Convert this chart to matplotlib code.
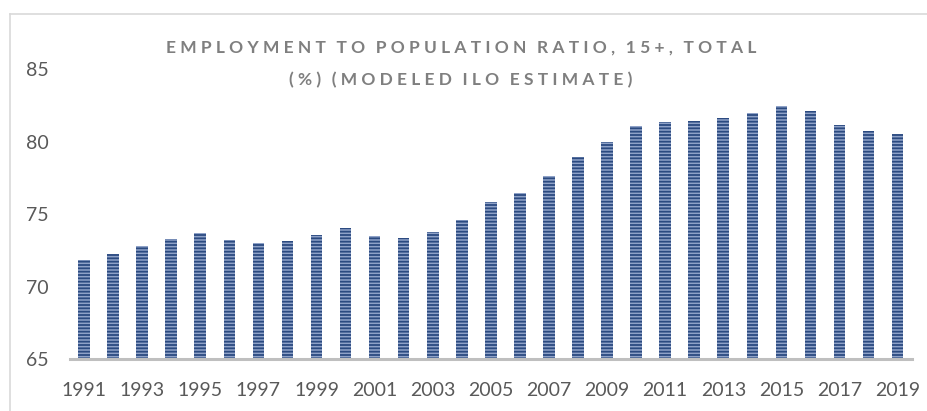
import matplotlib.pyplot as plt
import numpy as np
from matplotlib.lines import Line2D

# employment to population ratio, 15+, total (%)
years = list(range(1991, 2020))
ratio = [71.85, 72.24, 72.81, 73.28, 73.71, 73.21, 73.02, 73.18, 73.59, 74.08,
         73.50, 73.39, 73.76, 74.63, 75.85, 76.47, 77.64, 78.97, 79.99, 81.11,
         81.39, 81.46, 81.62, 81.99, 82.45, 82.12, 81.18, 80.74, 80.56]
y_ticks = [65, 70, 75, 80, 85]

title_lines = ["EMPLOYMENT TO POPULATION RATIO, 15+, TOTAL",
               "(%) (MODELED ILO ESTIMATE)"]


def spaced(text):
    """Letter-spaced caps using thin spaces, wider gap between words."""
    words = text.split(" ")
    return ("\u2009" * 5).join(("\u2009" * 2).join(w) for w in words)


plt.rcParams["font.family"] = ["Lato", "DejaVu Sans"]
plt.rcParams["hatch.linewidth"] = 1.3

fig = plt.figure(figsize=(9.27, 4.11), dpi=100)
ax = fig.add_axes([0.075, 0.1258, 0.909, 0.7056])

x = np.arange(len(years))
ax.bar(x, ratio, width=0.4, color="#8fa2c8", edgecolor="#2b4a80",
       linewidth=0, hatch="-----")

ax.set_xlim(-0.5, len(years) - 0.5)
ax.set_ylim(65, 85)
ax.set_yticks(y_ticks)
ax.set_xticks(x[::2])
ax.set_xticklabels([str(y) for y in years[::2]])
ax.tick_params(axis="both", length=0, labelsize=14, labelcolor="#595959")
ax.tick_params(axis="x", pad=16)
ax.tick_params(axis="y", pad=15)

for side in ["top", "right", "left"]:
    ax.spines[side].set_visible(False)
ax.spines["bottom"].set_color("#bfbfbf")
ax.spines["bottom"].set_linewidth(2.2)

# chart area border (top and left edges)
fig.add_artist(Line2D([10 / 927, 1.0], [1 - 14 / 411, 1 - 14 / 411],
                      color="#d9d9d9", linewidth=1.2))
fig.add_artist(Line2D([10 / 927, 10 / 927], [0, 1 - 14 / 411],
                      color="#d9d9d9", linewidth=1.2))

fig.text(0.497, 1 - 48 / 411, spaced(title_lines[0]), ha="center", va="center",
         fontsize=12.5, fontweight="bold", color="#7f7f7f")
fig.text(0.497, 1 - 80 / 411, spaced(title_lines[1]), ha="center", va="center",
         fontsize=12.5, fontweight="bold", color="#7f7f7f")

fig.savefig("out.png", dpi=100)
